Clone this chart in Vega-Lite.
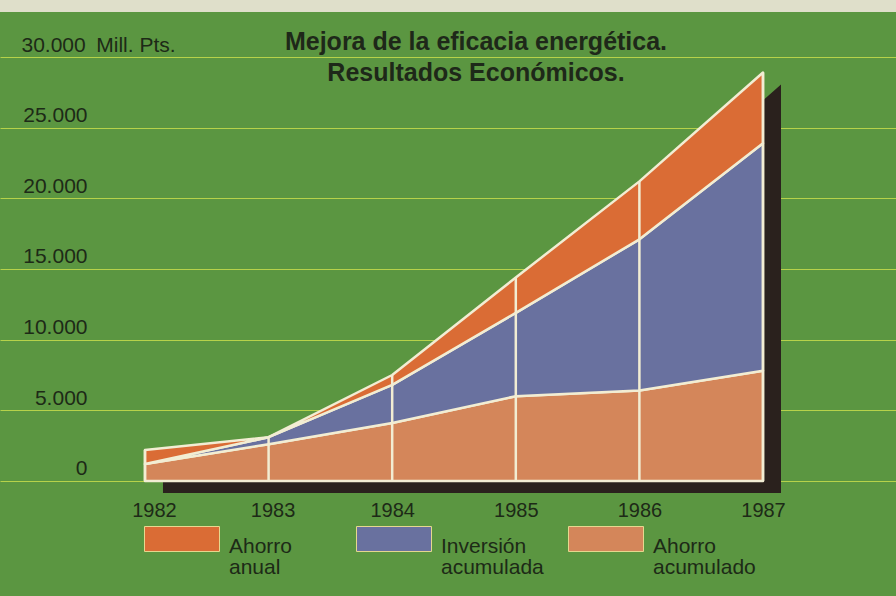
{
  "$schema": "https://vega.github.io/schema/vega-lite/v6.json",
  "width": 896,
  "height": 584,
  "autosize": {"type": "none"},
  "padding": {"top": 12, "left": 0, "right": 0, "bottom": 0},
  "background": "#dfdfca",
  "config": {
    "view": {"fill": "#5b9641", "stroke": null},
    "font": "Liberation Sans, Arial, sans-serif"
  },
  "title": {
    "text": ["Mejora de la eficacia energética.", "Resultados Económicos."],
    "anchor": "middle",
    "font": "Liberation Sans",
    "fontSize": 25,
    "fontWeight": "bold",
    "color": "#1e2819",
    "lineHeight": 31,
    "baseline": "top",
    "offset": 0,
    "dx": 28,
    "dy": 74
  },
  "data": {
    "values": [
      {"year": 1982, "serie": "Ahorro acumulado", "valor": 1200, "orden": 1},
      {"year": 1982, "serie": "Inversión acumulada", "valor": 0, "orden": 2},
      {"year": 1982, "serie": "Ahorro anual", "valor": 1000, "orden": 3},
      {"year": 1983, "serie": "Ahorro acumulado", "valor": 2600, "orden": 1},
      {"year": 1983, "serie": "Inversión acumulada", "valor": 500, "orden": 2},
      {"year": 1983, "serie": "Ahorro anual", "valor": 0, "orden": 3},
      {"year": 1984, "serie": "Ahorro acumulado", "valor": 4100, "orden": 1},
      {"year": 1984, "serie": "Inversión acumulada", "valor": 2700, "orden": 2},
      {"year": 1984, "serie": "Ahorro anual", "valor": 700, "orden": 3},
      {"year": 1985, "serie": "Ahorro acumulado", "valor": 6000, "orden": 1},
      {"year": 1985, "serie": "Inversión acumulada", "valor": 5900, "orden": 2},
      {"year": 1985, "serie": "Ahorro anual", "valor": 2500, "orden": 3},
      {"year": 1986, "serie": "Ahorro acumulado", "valor": 6400, "orden": 1},
      {"year": 1986, "serie": "Inversión acumulada", "valor": 10700, "orden": 2},
      {"year": 1986, "serie": "Ahorro anual", "valor": 4100, "orden": 3},
      {"year": 1987, "serie": "Ahorro acumulado", "valor": 7800, "orden": 1},
      {"year": 1987, "serie": "Inversión acumulada", "valor": 16100, "orden": 2},
      {"year": 1987, "serie": "Ahorro anual", "valor": 5000, "orden": 3}
    ]
  },
  "layer": [
    {
      "transform": [{"aggregate": [{"op": "sum", "field": "valor", "as": "total"}], "groupby": ["year"]}],
      "mark": {"type": "area", "color": "#2a211d", "xOffset": 18, "yOffset": 12, "y2Offset": 12},
      "encoding": {
        "x": {
          "field": "year", "type": "quantitative",
          "scale": {"domain": [1980.827, 1988.076], "nice": false, "zero": false},
          "axis": {
            "values": [1982, 1983, 1984, 1985, 1986, 1987],
            "format": "d", "grid": false, "domain": false, "ticks": false, "tickSize": 0,
            "labelPadding": 2, "offset": -98, "labelFontSize": 20, "labelColor": "#1d2a17",
            "labelBaseline": "top", "title": null,
            "labelOffset": {"condition": [{"test": "datum.value == 1982", "value": 9}, {"test": "datum.value == 1983", "value": 4}], "value": 0}
          }
        },
        "y": {
          "field": "total", "type": "quantitative",
          "scale": {"domain": [-8137, 33184], "nice": false, "zero": false},
          "axis": {
            "values": [0, 5000, 10000, 15000, 20000, 25000, 30000],
            "grid": true, "gridColor": "#b6d24a", "gridWidth": 1.2,
            "domain": false, "ticks": false, "tickSize": 0,
            "labelAlign": {"condition": {"test": "datum.value == 30000", "value": "left"}, "value": "right"},
            "labelPadding": {"condition": {"test": "datum.value == 30000", "value": -21}, "value": -87},
            "labelBaseline": "alphabetic", "labelOffset": -6,
            "labelFontSize": 21, "labelColor": "#1d2a17", "labelOverlap": false, "title": null,
            "labelExpr": "datum.value == 30000 ? '30.000\u2002Mill. Pts.' : replace(datum.label, ',', '.')"
          }
        },
        "y2": {"datum": 0}
      }
    },
    {
      "mark": {"type": "area", "stroke": "#f2edd3", "strokeWidth": 2.5, "strokeJoin": "round"},
      "encoding": {
        "x": {"field": "year", "type": "quantitative"},
        "y": {"field": "valor", "type": "quantitative", "stack": "zero"},
        "order": {"field": "orden", "type": "quantitative"},
        "color": {
          "field": "serie", "type": "nominal",
          "scale": {
            "domain": ["Ahorro anual", "Inversión acumulada", "Ahorro acumulado"],
            "range": ["#da6c35", "#69719f", "#d4865a"]
          },
          "legend": {
            "orient": "none", "legendX": 144, "legendY": 489,
            "direction": "horizontal", "columns": 3, "gridAlign": "all",
            "symbolType": "M-1,-0.333H1V0.333H-1Z", "symbolSize": 5625,
            "symbolStrokeColor": "#e6d88f", "symbolStrokeWidth": 1, "symbolOpacity": 1,
            "labelExpr": "split(datum.label, ' ')",
            "labelFontSize": 21, "labelColor": "#1d2a17", "labelBaseline": "top",
            "labelOffset": 9, "columnPadding": 22, "title": null, "padding": 0, "labelLimit": 0,
            "encode": {"labels": {"update": {"dy": {"value": -3}, "lineHeight": {"value": 21}}}}
          }
        }
      }
    },
    {
      "transform": [{"aggregate": [{"op": "sum", "field": "valor", "as": "total"}], "groupby": ["year"]}],
      "mark": {"type": "rule", "color": "#f2edd3", "strokeWidth": 2.5},
      "encoding": {
        "x": {"field": "year", "type": "quantitative"},
        "y": {"field": "total", "type": "quantitative"},
        "y2": {"datum": 0}
      }
    }
  ]
}
